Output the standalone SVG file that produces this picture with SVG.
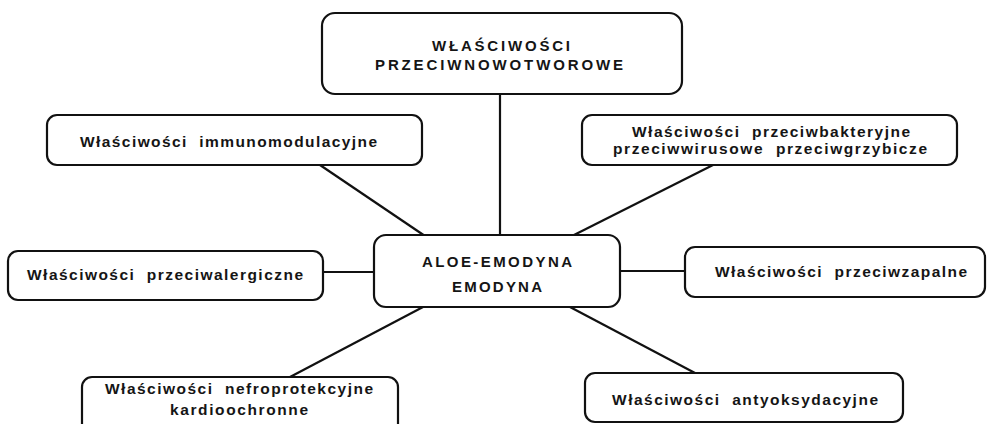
<svg xmlns="http://www.w3.org/2000/svg" width="992" height="424" viewBox="0 0 992 424">
<style>
.box{fill:#fff;stroke:#111;stroke-width:2.2}
.ln{stroke:#111;stroke-width:2.2;fill:none}
text{font-family:"Liberation Sans",Arial,sans-serif;font-weight:bold;fill:#151515;font-size:15.5px}
.cap{font-size:15px}
</style>
<rect width="992" height="424" fill="#fff"/>
<g id="connectors">
<line class="ln" x1="500" y1="94" x2="500" y2="236"/>
<line class="ln" x1="320" y1="165" x2="425" y2="236"/>
<line class="ln" x1="713" y1="165" x2="572" y2="236"/>
<line class="ln" x1="323" y1="272" x2="374" y2="272"/>
<line class="ln" x1="620" y1="271" x2="685" y2="271"/>
<line class="ln" x1="423" y1="307" x2="290" y2="377"/>
<line class="ln" x1="570" y1="307" x2="695" y2="373"/>
</g>
<g id="top">
<rect class="box" x="322" y="13" width="360" height="81" rx="13"/>
<text class="cap" x="432" y="51" textLength="138" lengthAdjust="spacing">WŁAŚCIWOŚCI</text>
<text class="cap" x="375" y="70" textLength="248" lengthAdjust="spacing">PRZECIWNOWOTWOROWE</text>
</g>
<g id="immuno">
<rect class="box" x="47" y="115" width="375" height="50" rx="10"/>
<text x="80" y="147" textLength="297" lengthAdjust="spacing" xml:space="preserve">Właściwości  immunomodulacyjne</text>
</g>
<g id="antibact">
<rect class="box" x="582" y="115" width="375" height="50" rx="10"/>
<text x="632" y="137" textLength="278" lengthAdjust="spacing" xml:space="preserve">Właściwości  przeciwbakteryjne</text>
<text x="613" y="154" textLength="314" lengthAdjust="spacing" xml:space="preserve">przeciwwirusowe  przeciwgrzybicze</text>
</g>
<g id="allergic">
<rect class="box" x="8" y="251" width="315" height="49" rx="10"/>
<text x="27" y="280" textLength="276" lengthAdjust="spacing" xml:space="preserve">Właściwości  przeciwalergiczne</text>
</g>
<g id="center">
<rect class="box" x="374" y="235" width="246" height="72" rx="12"/>
<text class="cap" x="422" y="267" textLength="150" lengthAdjust="spacing">ALOE-EMODYNA</text>
<text class="cap" x="452" y="292" textLength="90" lengthAdjust="spacing">EMODYNA</text>
</g>
<g id="inflam">
<rect class="box" x="685" y="247" width="300" height="50" rx="10"/>
<text x="715" y="277" textLength="252" lengthAdjust="spacing" xml:space="preserve">Właściwości  przeciwzapalne</text>
</g>
<g id="nephro">
<rect class="box" x="82" y="377" width="316" height="60" rx="10"/>
<text x="105" y="394" textLength="268" lengthAdjust="spacing" xml:space="preserve">Właściwości  nefroprotekcyjne</text>
<text x="170" y="415" textLength="138" lengthAdjust="spacing">kardioochronne</text>
</g>
<g id="antiox">
<rect class="box" x="585" y="373" width="318" height="49" rx="10"/>
<text x="612" y="405" textLength="266" lengthAdjust="spacing" xml:space="preserve">Właściwości  antyoksydacyjne</text>
</g>
</svg>
